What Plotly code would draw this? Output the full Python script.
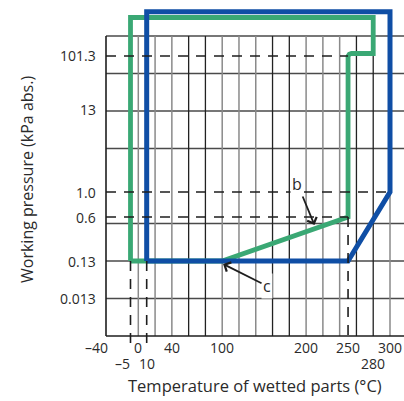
import numpy as np
import plotly.graph_objects as go

# ---------------- data ----------------
# schematic temperature axis: anchor temperatures and their chart positions
temp_anchor = [-40, -5, 0, 300]
temp_anchor_pos = [-38.5, -9.3, 0, 300]

temp_ticks_row1 = [-40, 0, 40, 100, 200, 250, 300]
temp_labels_row1 = ["–40", "0", "40", "100", "200", "250", "300"]
temp_ticks_row2 = [-5, 10, 280]
temp_labels_row2 = ["–5", "10", "280"]

# schematic pressure axis: label and its chart level
pressure_labels = ["0.013", "0.13", "0.6", "1.0", "13", "101.3"]
pressure_levels = [1.0, 2.0, 3.173, 3.84, 6.027, 7.467]

# grid
grid_temp_dark = [60, 80, 160, 180, 260, 280]
grid_temp_gray = [0, 20, 40, 100, 120, 140, 200, 220, 240, 300]
grid_levels = [1, 2, 3, 5, 6, 7, 8]

# operating envelopes (temperature, chart level)
blue_temp = [10, 10, 300, 300, 250, 10]
blue_level = [2.0, 8.648, 8.648, 3.84, 2.0, 2.0]
green_temp = [-5, -5, 280, 280, 254, 251.5, 250, 250, 100, -5]
green_level = [2.0, 8.493, 8.493, 7.533, 7.533, 7.515, 7.46, 3.173, 2.0, 2.0]

# dashed reference lines
ref_h_level = [7.467, 3.84, 3.173]
ref_h_to_temp = [250, 300, 250]
ref_v_temp = [-5, 10, 250]
ref_v_from_level = [2.0, 2.0, 3.173]


def tpos(t):
    return float(np.interp(t, temp_anchor, temp_anchor_pos))


# ---------------- geometry ----------------
W, H = 404, 401
L, R, T, B = 100, 404, 4, 350          # plot area in px
px_per_unit_x = 0.839
x_zero_px = 138.3
px_per_level = 37.5
level_zero_px = 336

x0 = (L - x_zero_px) / px_per_unit_x
x1 = (R - x_zero_px) / px_per_unit_x
y0 = (level_zero_px - B) / px_per_level
y1 = (level_zero_px - T) / px_per_level
bottom_ext = -0.187


def paper_x(px):
    return (px - L) / (R - L)


def paper_y(py):
    return (B - py) / (B - T)


fig = go.Figure()

BLUE = "#0f4ea5"
GREEN = "#3aa874"
INK = "#2a2a2a"

fig.add_trace(go.Scatter(x=[tpos(t) for t in green_temp], y=green_level, mode="lines",
                         line=dict(color=GREEN, width=4.8), hoverinfo="skip", showlegend=False))
fig.add_trace(go.Scatter(x=[tpos(t) for t in blue_temp], y=blue_level, mode="lines",
                         line=dict(color=BLUE, width=5), hoverinfo="skip", showlegend=False))

shapes = []
for lv in grid_levels:
    shapes.append(dict(type="line", xref="x", yref="y", x0=tpos(-40), x1=x1, y0=lv, y1=lv,
                       line=dict(color="#4a4a4a", width=1.3), layer="below"))
for t in grid_temp_gray:
    shapes.append(dict(type="line", xref="x", yref="y", x0=tpos(t), x1=tpos(t), y0=0, y1=8,
                       line=dict(color="#8a8a8a", width=1.5), layer="below"))
for t in grid_temp_dark:
    shapes.append(dict(type="line", xref="x", yref="y", x0=tpos(t), x1=tpos(t), y0=0, y1=8,
                       line=dict(color="#222222", width=1.3), layer="below"))
# axes lines
shapes.append(dict(type="line", xref="x", yref="y", x0=tpos(-40), x1=tpos(-40), y0=0, y1=8,
                   line=dict(color="#1e1e1e", width=1.6), layer="below"))
shapes.append(dict(type="line", xref="x", yref="y", x0=tpos(-40), x1=x1, y0=0, y1=0,
                   line=dict(color="#1e1e1e", width=1.6), layer="below"))
# dashed reference lines
for lv, te in zip(ref_h_level, ref_h_to_temp):
    shapes.append(dict(type="line", xref="x", yref="y", x0=tpos(-40), x1=tpos(te), y0=lv, y1=lv,
                       line=dict(color="#1e1e1e", width=1.6, dash="10px,8px"), layer="above"))
for t, lv in zip(ref_v_temp, ref_v_from_level):
    shapes.append(dict(type="line", xref="x", yref="y", x0=tpos(t), x1=tpos(t), y0=lv, y1=bottom_ext,
                       line=dict(color="#1e1e1e", width=1.6, dash="10px,8px"), layer="above"))

ann = []
FONT = "Open Sans"
for lab, lv in zip(pressure_labels, pressure_levels):
    ann.append(dict(x=tpos(-40), y=lv, xref="x", yref="y", text=lab, showarrow=False,
                    xanchor="right", yanchor="middle", xshift=-8,
                    font=dict(family=FONT, size=14, color=INK)))
for t, lab in zip(temp_ticks_row1, temp_labels_row1):
    shift = -10 if t < 0 else 0
    ann.append(dict(x=tpos(t), y=0, xref="x", yref="y", text=lab, showarrow=False,
                    xanchor="center", yanchor="middle", yshift=-11, xshift=shift,
                    font=dict(family=FONT, size=14, color=INK)))
for t, lab in zip(temp_ticks_row2, temp_labels_row2):
    shift = -8 if t < 0 else 0
    ann.append(dict(x=tpos(t), y=0, xref="x", yref="y", text=lab, showarrow=False,
                    xanchor="center", yanchor="middle", yshift=-27, xshift=shift,
                    font=dict(family=FONT, size=14, color=INK)))

# callouts
ann.append(dict(x=tpos(210), y=2.96, xref="x", yref="y", text="b", showarrow=True,
                ax=-17, ay=-41, arrowhead=4, arrowsize=1.1, arrowwidth=1.8, arrowcolor="#1e1e1e",
                bgcolor="white", font=dict(family=FONT, size=16, color=INK)))
ann.append(dict(x=tpos(101), y=1.92, xref="x", yref="y", text="c", showarrow=True,
                ax=44, ay=22, arrowhead=4, arrowsize=1.1, arrowwidth=1.8, arrowcolor="#1e1e1e",
                bgcolor="white", font=dict(family=FONT, size=16, color=INK)))

# axis titles
ann.append(dict(x=paper_x(255), y=paper_y(385), xref="paper", yref="paper",
                text="Temperature of wetted parts (°C)", showarrow=False,
                xanchor="center", yanchor="middle",
                font=dict(family=FONT, size=16.5, color=INK)))
ann.append(dict(x=paper_x(27), y=paper_y(180), xref="paper", yref="paper",
                text="Working pressure (kPa abs.)", showarrow=False, textangle=-90,
                xanchor="center", yanchor="middle",
                font=dict(family=FONT, size=16, color=INK)))

fig.update_layout(
    width=W, height=H,
    margin=dict(l=L, r=W - R, t=T, b=H - B),
    paper_bgcolor="white", plot_bgcolor="white",
    xaxis=dict(range=[x0, x1], visible=False, showgrid=False, zeroline=False, fixedrange=True),
    yaxis=dict(range=[y0, y1], visible=False, showgrid=False, zeroline=False, fixedrange=True),
    shapes=shapes, annotations=ann, showlegend=False,
)

fig.write_html("out.html", config={"displayModeBar": False},
               post_script="document.body.style.margin='0';document.body.style.overflow='hidden';")
